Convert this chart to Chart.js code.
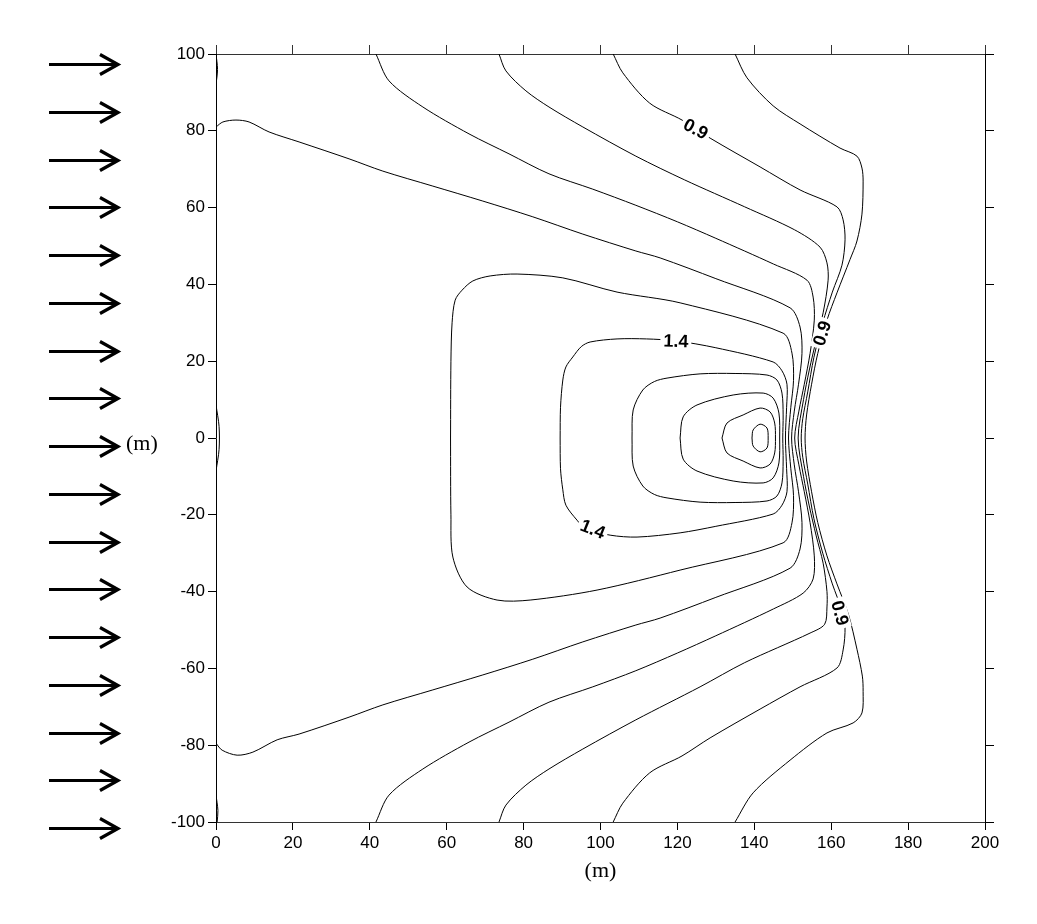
<!DOCTYPE html>
<html>
<head>
<meta charset="utf-8">
<script src="https://cdn.jsdelivr.net/npm/chart.js@4.4.0/dist/chart.umd.min.js"></script>
<style>
  html, body { margin: 0; padding: 0; background: #fff; }
</style>
</head>
<body>
<canvas id="myChart" width="1037" height="924"></canvas>
<script>
// axis ticks
const xTicks = [0, 20, 40, 60, 80, 100, 120, 140, 160, 180, 200];
const yTicks = [-100, -80, -60, -40, -20, 0, 20, 40, 60, 80, 100];

// contour lines, [x, y] in metres
const lineT135 = [[135,100],[138.1,93.8],[144.9,86.5],[151.9,81.8],[162.3,75.5],[166.7,73.4],[168.0,70.3],[168.3,66.9],[168.0,58.3],[166.7,51.3],[164.9,46.5],[161.5,37.8],[158.9,30.7],[156.5,22],[154.9,14],[153.6,6],[153.2,0],[153.6,-6],[154.9,-14],[156.5,-22],[158.9,-30.7],[161.5,-38],[164.5,-46],[166.7,-55],[168.1,-62],[168.3,-66],[168.0,-71.6],[165.7,-74.2],[158.9,-76.8],[149.3,-83.9],[139.7,-92.4],[135,-100]];
const lineT104 = [[103.3,100],[105.8,95.1],[112.8,87.2],[121.2,82.8],[128.5,78.1],[141.5,70.6],[151.9,64.6],[161.5,60.2],[163.1,56.8],[163.6,51.6],[162.8,45],[160.3,38],[157.8,30],[155.5,21],[153.9,12],[152.6,5],[152.2,0],[152.6,-5],[153.9,-12],[155.5,-21],[157.8,-30],[160.3,-38],[162.8,-45],[163.6,-49.2],[163.1,-55.2],[161.5,-59.9],[151.9,-64.8],[141.5,-70.6],[128.5,-78.1],[121.2,-82.8],[112.8,-87.2],[105.8,-95.1],[103.3,-100]];
const lineT73 = [[73.6,100],[75.4,95.6],[80.6,90.4],[86.6,86.2],[95.4,81.0],[109.2,73.4],[121.9,67.2],[137.5,60.2],[150.5,54.2],[157.1,49.7],[158.9,45.6],[159.2,41.1],[157.9,32.6],[156.1,25.5],[154.3,17.7],[152.8,10],[151.4,0],[152.8,-10],[154.3,-17.7],[156.1,-25.5],[157.9,-32.6],[158.9,-40],[158.9,-44],[158.3,-48.5],[154.5,-50.8],[137.5,-58.5],[125.9,-64.8],[109.2,-73.4],[95.4,-81.0],[86.6,-86.2],[80.6,-90.4],[75.4,-95.6],[73.6,-100]];
const lineT42 = [[41.6,100],[45.0,93.0],[53.8,86.2],[65.8,79.2],[76.2,74.0],[86.6,68.8],[98,64.8],[109.2,60.6],[120,56.3],[130,52],[145,45.3],[153.7,41.1],[155.3,36.7],[155.6,30.7],[154.5,22],[153.0,14],[151.6,7],[150.5,0],[151.6,-7],[153.0,-14],[154.5,-22],[155.6,-30.7],[155.3,-36.7],[152.7,-40.4],[145,-44.5],[130,-51.5],[120,-56],[109.2,-60.6],[98,-64.8],[86.6,-68.8],[76.2,-74.0],[65.8,-79.2],[53.8,-86.2],[45.0,-93.0],[41.6,-100]];
const lineB = [[0,81],[1.8,82.3],[5.2,82.8],[8.6,82.3],[13.8,79.7],[21.6,77.1],[34.6,72.7],[43.4,69.5],[56.4,65.6],[69.4,61.7],[82.4,57.6],[95.4,53.1],[109.2,48.7],[115.5,46.9],[130,41.5],[149.3,33.9],[151.9,28.9],[152.4,22],[151.5,14],[150.4,7],[149.7,0],[150.4,-7],[151.5,-14],[152.4,-22],[151.9,-28.9],[149.3,-33.9],[130,-41.5],[115.5,-46.9],[109.2,-48.7],[95.4,-53.1],[82.4,-57.6],[69.4,-61.7],[56.4,-65.6],[43.4,-69.5],[34.6,-72.7],[21.6,-77.1],[15.9,-78.6],[9.6,-81.8],[5.5,-82.6],[1.6,-81.3],[0,-79.5]];
const loopL6 = [[61.0,0],[61.1,20],[61.4,30],[62.2,35.9],[64,38.5],[66.8,40.9],[71.3,42.2],[78.3,42.7],[90.2,41.7],[104.3,38.0],[120.7,35.2],[147.5,27.3],[149.8,22.1],[150.2,15],[149.5,8],[148.9,0],[149.5,-8],[150.2,-15],[149.8,-22.1],[147.5,-27.3],[120.7,-34.4],[99.1,-39.6],[81.7,-42.2],[73.1,-42.2],[65.3,-38.8],[61.6,-31],[61.1,-20],[61.0,0]];
const loopL5 = [[89.5,0],[89.6,8],[90.2,15.1],[91,18.5],[92.8,21.1],[95,23.8],[97.3,25.0],[104.3,25.8],[112,25.8],[119.6,25.3],[130,23.5],[144.9,19.8],[147.2,17.5],[148.5,14],[148.4,8],[148.1,0],[148.4,-8],[148.5,-14],[147.2,-17.5],[144.9,-19.8],[130,-23],[120.7,-24.7],[109.5,-25.8],[102.5,-25.3],[96,-23.5],[93.9,-21.4],[91,-17.5],[90.2,-13.5],[89.6,-8],[89.5,0]];
const loopL4 = [[108.2,0],[108.5,7.3],[111,12.5],[114,14.7],[117.3,15.6],[125.9,16.7],[135,16.8],[143.3,16.4],[145.9,15.1],[147.2,11.7],[147.5,6],[147.4,0],[147.5,-6],[147.2,-11.7],[145.9,-15.1],[143.3,-16.4],[135,-16.8],[125.9,-16.7],[117.3,-15.6],[114,-14.7],[111,-12.5],[108.5,-7.3],[108.2,0]];
const loopL3 = [[120.7,0],[121.5,5.5],[125.1,8.6],[134.5,11.2],[142.3,11.7],[144.9,10.4],[146.4,6.5],[146.6,0],[146.4,-6.5],[144.9,-10.4],[142.3,-11.7],[134.5,-11.2],[125.1,-8.6],[121.5,-5.5],[120.7,0]];
const loopL2 = [[131.6,0],[132.9,3.9],[137.1,6.0],[141.5,7.8],[144.1,6.8],[145.3,3.9],[145.5,0],[145.3,-3.9],[144.1,-6.8],[141.5,-7.8],[137.1,-6.0],[132.9,-3.9],[131.6,0]];
const loopL1 = [[139.4,0],[139.7,2.1],[141.5,3.6],[143.3,2.6],[143.6,0],[143.3,-2.6],[141.5,-3.6],[139.7,-2.1],[139.4,0]];
const edgeTop = [[0,100],[0.4,96],[0,92]];
const edgeMid = [[0,8.6],[0.8,3],[0.8,-3],[0,-8.6]];
const edgeBottom = [[0,-93],[0.5,-97],[0.3,-100]];

const contours = [lineT135, lineT104, lineT73, lineT42, lineB, loopL6, loopL5, loopL4, loopL3, loopL2, loopL1, edgeTop, edgeMid, edgeBottom];

// contour labels: text, x, y, rotation in degrees
const labelText = ['0.9', '1.4', '0.9', '1.4', '0.9'];
const labelX = [124.8, 119.6, 157.6, 98.0, 162.3];
const labelY = [80.5, 25.3, 27.3, -23.7, -45.6];
const labelRot = [28, 2, -73, 22, 75];

const arrowCount = 17;

const ctx = document.getElementById('myChart');

const extras = {
  id: 'extras',
  afterDatasetsDraw(chart) {
    const c = chart.ctx;
    const x = chart.scales.x, y = chart.scales.y;
    c.save();
    c.font = 'bold 18px "Liberation Sans", Arial, sans-serif';
    c.textAlign = 'center';
    c.textBaseline = 'middle';
    for (let i = 0; i < labelText.length; i++) {
      const px = x.getPixelForValue(labelX[i]);
      const py = y.getPixelForValue(labelY[i]);
      const w = c.measureText(labelText[i]).width + 6;
      c.save();
      c.translate(px, py);
      c.rotate(labelRot[i] * Math.PI / 180);
      c.fillStyle = '#fff';
      c.fillRect(-w / 2, -8, w, 16);
      c.fillStyle = '#000';
      c.fillText(labelText[i], 0, 1);
      c.restore();
    }
    c.restore();
  },
  afterDraw(chart) {
    const c = chart.ctx;
    const area = chart.chartArea;
    const y = chart.scales.y;
    c.save();
    c.strokeStyle = '#000';
    c.lineWidth = 3.2;
    c.lineCap = 'butt';
    const top = area.top + 10;
    const step = (area.bottom + 6 - top) / (arrowCount - 1);
    for (let i = 0; i < arrowCount; i++) {
      const ay = Math.round(top + i * step) + 0.5;
      c.beginPath();
      c.moveTo(49, ay);
      c.lineTo(117, ay);
      c.moveTo(100, ay - 10);
      c.lineTo(118, ay);
      c.lineTo(100, ay + 10);
      c.stroke();
    }
    c.fillStyle = '#000';
    c.font = '22px "Liberation Serif", "Times New Roman", serif';
    c.textAlign = 'left';
    c.textBaseline = 'middle';
    c.fillText('(m)', 126, y.getPixelForValue(0) + 6);
    c.restore();
  }
};

const tickFont = { family: '"Liberation Sans", Arial, sans-serif', size: 17 };

new Chart(ctx, {
  type: 'scatter',
  data: {
    datasets: contours.map(line => ({
      data: line.map(p => ({ x: p[0], y: p[1] })),
      showLine: true,
      borderColor: '#000',
      borderWidth: 1,
      pointRadius: 0,
      tension: 0.3,
      fill: false
    }))
  },
  options: {
    responsive: false,
    animation: false,
    layout: { padding: 0 },
    plugins: { legend: { display: false }, tooltip: { enabled: false } },
    scales: {
      x: {
        type: 'linear', position: 'bottom', min: 0, max: 200,
        afterBuildTicks: s => { s.ticks = xTicks.map(v => ({ value: v })); },
        afterFit: s => { s.height = 102; },
        ticks: { color: '#000', font: tickFont, padding: 3, maxRotation: 0 },
        grid: { drawOnChartArea: false, drawTicks: true, tickLength: 8, color: '#000' },
        border: { display: true, color: '#333', width: 1 },
        title: { display: true, text: '(m)', color: '#000',
                 font: { family: '"Liberation Serif", "Times New Roman", serif', size: 22 },
                 padding: { top: 0, bottom: 40 } }
      },
      x2: {
        type: 'linear', position: 'top', min: 0, max: 200,
        afterBuildTicks: s => { s.ticks = xTicks.map(v => ({ value: v })); },
        afterFit: s => { s.height = 54; },
        ticks: { display: false },
        grid: { drawOnChartArea: false, drawTicks: true, tickLength: 9, color: '#333' },
        border: { display: true, color: '#333', width: 1 }
      },
      y: {
        type: 'linear', position: 'left', min: -100, max: 100,
        afterBuildTicks: s => { s.ticks = yTicks.map(v => ({ value: v })); },
        afterFit: s => { s.width = 216; },
        ticks: { color: '#000', font: tickFont, padding: 3 },
        grid: { drawOnChartArea: false, drawTicks: true, tickLength: 8, color: '#000' },
        border: { display: true, color: '#000', width: 1 }
      },
      y2: {
        type: 'linear', position: 'right', min: -100, max: 100,
        afterBuildTicks: s => { s.ticks = yTicks.map(v => ({ value: v })); },
        afterFit: s => { s.width = 52; },
        ticks: { display: false },
        grid: { drawOnChartArea: false, drawTicks: true, tickLength: 9, color: '#000' },
        border: { display: true, color: '#000', width: 1 }
      }
    }
  },
  plugins: [extras]
});
</script>
</body>
</html>
